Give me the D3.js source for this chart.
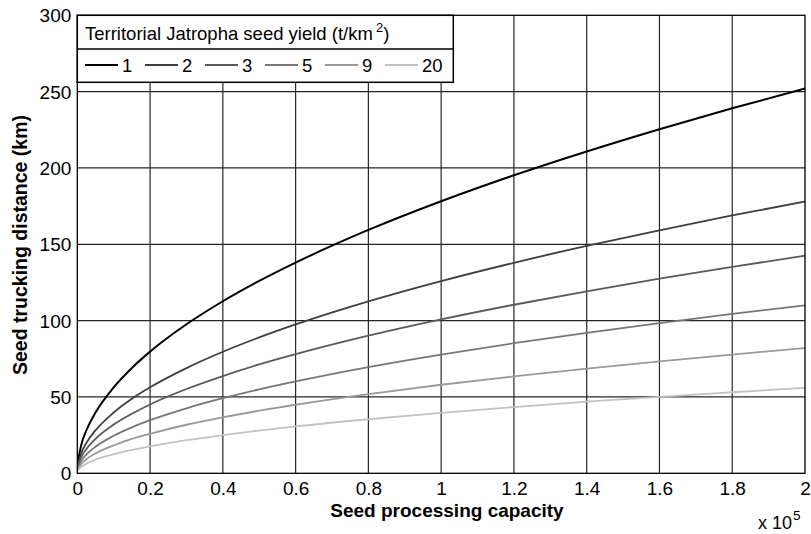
<!DOCTYPE html>
<html><head><meta charset="utf-8">
<script src="https://cdn.jsdelivr.net/npm/d3@7"></script>
<style>body{margin:0;background:#fff}svg{display:block}text{font-family:"Liberation Sans",Arial,sans-serif}</style>
</head><body>
<svg id="c" width="811" height="534"></svg>
<script>
// Data (x in units of 10^5)
const capacity = [0.002,0.01,0.025,0.05,0.1,0.15,0.2,0.3,0.4,0.5,0.6,0.8,1.0,1.2,1.4,1.6,1.8,2.0];
const yields = ["1","2","3","5","9","20"];
const dist1  = [8.0,17.8,28.2,39.8,56.3,69.0,79.7,97.6,112.7,126.0,138.0,159.4,178.2,195.2,210.8,225.4,239.1,252.0];
const dist2  = [5.6,12.6,19.9,28.1,39.8,48.8,56.3,68.9,79.6,89.0,97.5,112.6,125.9,137.9,148.9,159.2,168.9,178.0];
const dist3  = [4.5,10.1,15.9,22.5,31.9,39.0,45.1,55.2,63.7,71.3,78.0,90.1,100.8,110.4,119.2,127.5,135.2,142.5];
const dist5  = [3.5,7.8,12.3,17.4,24.6,30.1,34.8,42.6,49.2,55.0,60.2,69.6,77.8,85.2,92.0,98.4,104.4,110.0];
const dist9  = [2.6,5.8,9.2,13.0,18.3,22.5,25.9,31.8,36.7,41.0,44.9,51.9,58.0,63.5,68.6,73.3,77.8,82.0];
const dist20 = [1.8,4.0,6.3,8.9,12.5,15.3,17.7,21.7,25.0,28.0,30.7,35.4,39.6,43.4,46.9,50.1,53.1,56.0];
const seriesValues = [dist1,dist2,dist3,dist5,dist9,dist20];
const colors = ["#000000","#3f3f3f","#5a5a5a","#777777","#999999","#c2c2c2"];
const xTicks = [0,0.2,0.4,0.6,0.8,1,1.2,1.4,1.6,1.8,2];
const yTicks = [0,50,100,150,200,250,300];

const svg = d3.select("#c");
const L=77.3, R=805, T=15.3, B=473.3;
const x = d3.scaleLinear().domain([0,2]).range([L,R]);
const y = d3.scaleLinear().domain([0,300]).range([B,T]);

// grid
const g = svg.append("g");
g.selectAll("line.vx").data(xTicks.slice(1,-1)).join("line")
  .attr("x1",d=>x(d)).attr("x2",d=>x(d)).attr("y1",T).attr("y2",B)
  .attr("stroke","#262626").attr("stroke-width",1.2);
g.selectAll("line.hy").data(yTicks.slice(1,-1)).join("line")
  .attr("y1",d=>y(d)).attr("y2",d=>y(d)).attr("x1",L).attr("x2",R)
  .attr("stroke","#262626").attr("stroke-width",1.2);

// curves
const line = d3.line().x(d=>x(d[0])).y(d=>y(d[1])).curve(d3.curveMonotoneX);
seriesValues.forEach((vals,i)=>{
  const pts = capacity.map((c,j)=>[c,vals[j]]);
  svg.append("path").attr("d",line(pts)).attr("fill","none")
    .attr("stroke",colors[i]).attr("stroke-width",i===0?2:1.8);
});

// border
svg.append("rect").attr("x",L).attr("y",T).attr("width",R-L).attr("height",B-T)
  .attr("fill","none").attr("stroke","#000").attr("stroke-width",1.3);

// axes
const xAxis = d3.axisBottom(x).tickValues(xTicks).tickSize(0).tickPadding(0)
  .tickFormat(d=>d3.format("")(d));
const gx = svg.append("g").attr("transform",`translate(0,${B})`).call(xAxis);
gx.select(".domain").remove();
gx.selectAll("text").attr("font-size",19).attr("fill","#000").attr("dy",null).attr("y",21.5);

const yAxis = d3.axisLeft(y).tickValues(yTicks).tickSize(0).tickPadding(6);
const gy = svg.append("g").attr("transform",`translate(${L},0)`).call(yAxis);
gy.select(".domain").remove();
gy.selectAll("text").attr("font-size",19).attr("fill","#000").attr("dy","0.35em");

// axis labels
svg.append("text").attr("x",447).attr("y",517).attr("text-anchor","middle")
  .attr("font-size",19).attr("font-weight","bold").text("Seed processing capacity");
svg.append("text").attr("transform",`translate(27,245) rotate(-90)`).attr("text-anchor","middle")
  .attr("font-size",19.5).attr("font-weight","bold").text("Seed trucking distance (km)");
const ex = svg.append("text").attr("x",758).attr("y",529).attr("font-size",18);
ex.append("tspan").text("x 10");
ex.append("tspan").attr("font-size",13.5).attr("dy",-9).attr("dx",1).text("5");

// legend
const lg = svg.append("g");
lg.append("rect").attr("x",L).attr("y",T).attr("width",376).attr("height",67)
  .attr("fill","#fff").attr("stroke","#000").attr("stroke-width",1.5);
lg.append("line").attr("x1",L).attr("x2",L+376).attr("y1",49).attr("y2",49)
  .attr("stroke","#000").attr("stroke-width",1.5);
const tt = lg.append("text").attr("x",85).attr("y",40).attr("font-size",18.5);
tt.append("tspan").text("Territorial Jatropha seed yield (t/km");
tt.append("tspan").attr("font-size",13).attr("dy",-8).attr("dx",3).text("2");
tt.append("tspan").attr("dy",8).text(")");
yields.forEach((k,i)=>{
  const x0 = 85 + i*60;
  lg.append("line").attr("x1",x0).attr("x2",x0+33).attr("y1",65).attr("y2",65)
    .attr("stroke",colors[i]).attr("stroke-width",2);
  lg.append("text").attr("x",x0+37).attr("y",72).attr("font-size",18.5).text(k);
});
</script>
</body></html>
